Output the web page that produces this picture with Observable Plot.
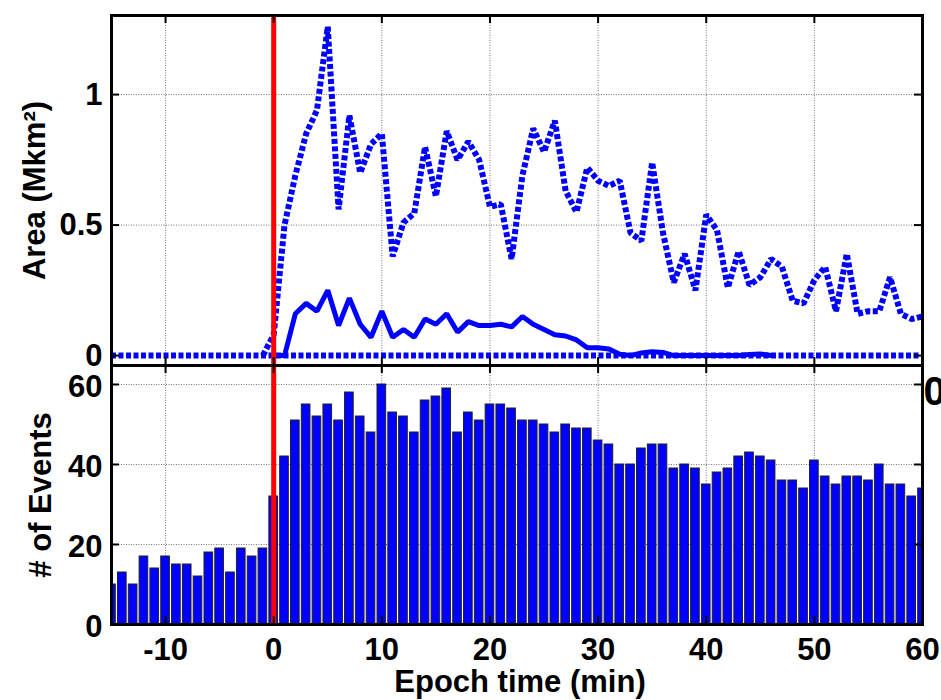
<!DOCTYPE html>
<html><head><meta charset="utf-8">
<script src="https://cdn.jsdelivr.net/npm/d3@7"></script>
<script src="https://cdn.jsdelivr.net/npm/@observablehq/plot@0.6"></script>
<style>
body{margin:0;background:#fff;}
#chart svg{display:block;overflow:visible;}
</style></head><body><div id="chart"></div>
<script>
// ---- data ----
const areaMinutes = [-1,0,1,2,3,4,5,6,7,8,9,10,11,12,13,14,15,16,17,18,19,20,21,22,23,24,25,26,27,28,29,30,31,32,33,34,35,36,37,38,39,40,41,42,43,44,45,46,47,48,49,50,51,52,53,54,55,56,57,58,59,60];
const areaLarge = [0,0.08,0.50,0.69,0.85,0.94,1.26,0.56,0.92,0.70,0.81,0.85,0.38,0.51,0.545,0.80,0.61,0.86,0.75,0.82,0.75,0.57,0.58,0.37,0.69,0.87,0.78,0.90,0.63,0.55,0.72,0.67,0.65,0.67,0.47,0.44,0.74,0.47,0.28,0.39,0.25,0.54,0.48,0.26,0.40,0.27,0.30,0.37,0.34,0.21,0.20,0.29,0.34,0.17,0.39,0.16,0.17,0.17,0.30,0.16,0.14,0.15];
const smallMinutes = [0,1,2,3,4,5,6,7,8,9,10,11,12,13,14,15,16,17,18,19,20,21,22,23,24,25,26,27,28,29,30,31,32,33,34,35,36,37,38,39,40,41,42,43,44,45,46];
const areaSmall = [0,0,0.16,0.20,0.17,0.25,0.115,0.22,0.12,0.07,0.17,0.07,0.10,0.07,0.14,0.12,0.16,0.09,0.13,0.115,0.115,0.12,0.11,0.15,0.12,0.10,0.08,0.075,0.06,0.03,0.03,0.025,0.005,0,0.01,0.015,0.012,0,0,0,0,0,0,0,0.004,0.006,0];
const eventMinutes = [-15,-14,-13,-12,-11,-10,-9,-8,-7,-6,-5,-4,-3,-2,-1,0,1,2,3,4,5,6,7,8,9,10,11,12,13,14,15,16,17,18,19,20,21,22,23,24,25,26,27,28,29,30,31,32,33,34,35,36,37,38,39,40,41,42,43,44,45,46,47,48,49,50,51,52,53,54,55,56,57,58,59,60];
const eventCounts = [10,13,10,17,14,17,15,15,12,18,19,13,19,17,19,32,42,51,55,52,55,51,58,52,48,60,53,52,48,56,57,59,48,53,51,55,55,54,51,51,50,48,50,49,49,46,45,40,40,44,45,45,39,40,39,35,38,39,42,43,42,41,36,36,34,41,37,35,37,37,36,40,35,35,32,34];
const xTicks = [-10,0,10,20,30,40,50,60];
const areaTicks = [0,0.5,1];
const countTicks = [0,20,40,60];
const epochLine = [0];

// ---- tables built from the arrays ----
const largeData = areaMinutes.map((t,i)=>({t, v: areaLarge[i]}));
const smallData = smallMinutes.map((t,i)=>({t, v: areaSmall[i]}));
const eventData = eventMinutes.map((t,i)=>({t, n: eventCounts[i]}));

const BLUE = "#0000ff";
const W = 941, ML = 111, MR = 19;
const innerW = W - ML - MR;
const font = {fontFamily: "'Liberation Sans', Arial, sans-serif", fontSize: "31px", fontWeight: "bold", background: "white", overflow: "visible"};
const grid = {stroke: "#777", strokeWidth: 1, strokeDasharray: "1,1.5"};
const TK = 8;

// ---- top panel ----
const topH = 365, topMT = 15;
const topInnerH = topH - topMT;
const topPlot = Plot.plot({
  width: W, height: topH,
  marginLeft: ML, marginRight: MR, marginTop: topMT, marginBottom: 0,
  x: {domain: [-15, 60], axis: null},
  y: {domain: [-0.038, 1.303], axis: null},
  style: font,
  marks: [
    Plot.ruleX(xTicks, {x: d => d, ...grid}),
    Plot.ruleY(areaTicks.filter(d => d > 0), {y: d => d, ...grid}),
    Plot.ruleY([0], {y: d => d, stroke: BLUE, strokeWidth: 6, strokeDasharray: "5,2.5"}),
    Plot.line(smallData, {x: "t", y: "v", stroke: BLUE, strokeWidth: 5, strokeLinejoin: "miter"}),
    Plot.line(largeData, {x: "t", y: "v", stroke: BLUE, strokeWidth: 6, strokeDasharray: "5,2.5", strokeLinecap: "butt", strokeLinejoin: "miter"}),
    Plot.ruleX(epochLine, {x: d => d, stroke: "#ff0000", strokeWidth: 5}),
    Plot.ruleX(xTicks, {x: d => d, stroke: "black", strokeWidth: 2, insetBottom: topInnerH - TK}),
    Plot.ruleX(xTicks, {x: d => d, stroke: "black", strokeWidth: 2, insetTop: topInnerH - TK}),
    Plot.ruleY(areaTicks, {y: d => d, stroke: "black", strokeWidth: 2, insetRight: innerW - TK}),
    Plot.ruleY(areaTicks, {y: d => d, stroke: "black", strokeWidth: 2, insetLeft: innerW - TK}),
    Plot.frame({stroke: "black", strokeWidth: 3}),
    Plot.axisY(areaTicks, {tickSize: 0, tickPadding: 9, label: null, dy: 0, tickFormat: d => String(d)}),
    Plot.text(["Area (Mkm²)"], {frameAnchor: "left", dx: -76, rotate: -90, textAnchor: "middle", fontSize: 31, fontWeight: "bold"})
  ]
});

// ---- bottom panel ----
const botH = 335, botMB = 76;
const botInnerH = botH - botMB;
const botPlot = Plot.plot({
  width: W, height: botH,
  marginLeft: ML, marginRight: MR, marginTop: 0, marginBottom: botMB,
  x: {domain: [-15, 60], axis: null},
  y: {domain: [0, 64.75], axis: null},
  style: font,
  marks: [
    Plot.ruleX(xTicks, {x: d => d, ...grid}),
    Plot.ruleY(countTicks.filter(d => d > 0), {y: d => d, ...grid}),
    Plot.rectY(eventData, {x1: d => d.t - 0.4, x2: d => d.t + 0.4, y: "n", fill: BLUE, stroke: "#222", strokeWidth: 1, clip: true}),
    Plot.ruleX(epochLine, {x: d => d, stroke: "#ff0000", strokeWidth: 5}),
    Plot.ruleX(xTicks, {x: d => d, stroke: "black", strokeWidth: 2, insetBottom: botInnerH - TK}),
    Plot.ruleX(xTicks, {x: d => d, stroke: "black", strokeWidth: 2, insetTop: botInnerH - TK}),
    Plot.ruleY(countTicks, {y: d => d, stroke: "black", strokeWidth: 2, insetRight: innerW - TK}),
    Plot.ruleY(countTicks, {y: d => d, stroke: "black", strokeWidth: 2, insetLeft: innerW - TK}),
    Plot.frame({stroke: "black", strokeWidth: 3}),
    Plot.axisY(countTicks, {tickSize: 0, tickPadding: 9, label: null, dy: 3, tickFormat: d => String(d)}),
    Plot.axisX(xTicks, {tickSize: 0, tickPadding: 13, label: null, tickFormat: d => String(d)}),
    Plot.text(["0"], {x: 60, y: 60, dx: 1, dy: 8, textAnchor: "start", fontSize: 40, fontWeight: "bold"}),
    Plot.text(["# of Events"], {frameAnchor: "left", dx: -70, rotate: -90, textAnchor: "middle", fontSize: 31, fontWeight: "bold"}),
    Plot.text(["Epoch time (min)"], {frameAnchor: "bottom", dx: 3, dy: 67, textAnchor: "middle", fontSize: 31, fontWeight: "bold"})
  ]
});

document.getElementById("chart").append(topPlot, botPlot);
</script></body></html>
